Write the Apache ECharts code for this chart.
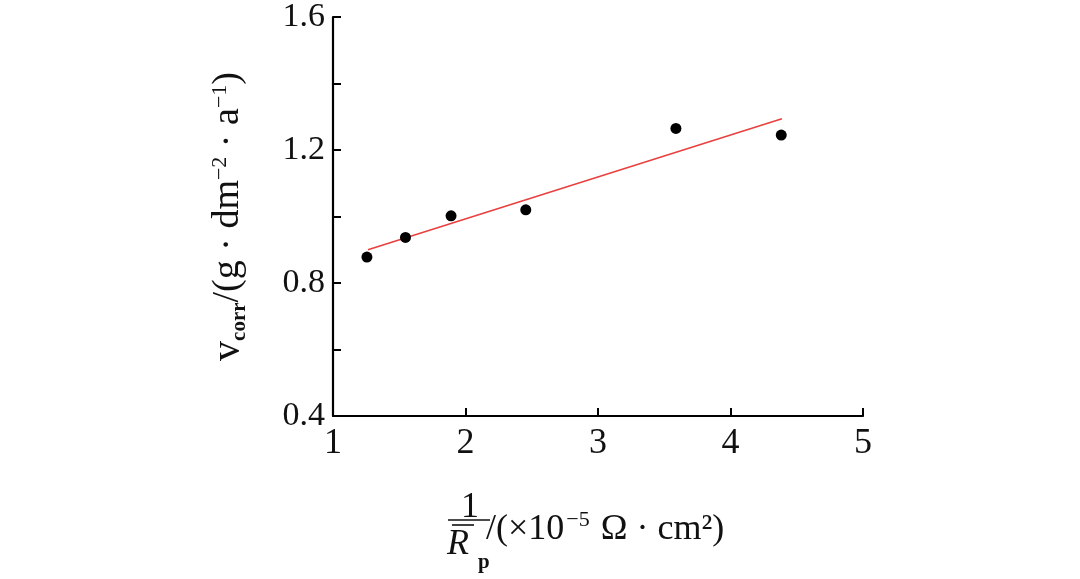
<!DOCTYPE html>
<html>
<head>
<meta charset="utf-8">
<script src="https://cdn.jsdelivr.net/npm/echarts@6/dist/echarts.min.js"></script>
<style>html,body{margin:0;padding:0;background:#fff;}#c{width:1080px;height:579px;}</style>
</head>
<body>
<div id="c"></div>
<script>
// Data
const xValues = [1.256, 1.547, 1.891, 2.455, 3.588, 4.383];
const yValues = [0.878, 0.937, 1.002, 1.020, 1.265, 1.245];
const fitX = [1.264, 4.388];
const fitY = [0.900, 1.294];
const xTicks = [1, 2, 3, 4, 5];
const yLabelTicks = [0.4, 0.8, 1.2, 1.6];

const FONT = '"Liberation Serif", "DejaVu Serif", serif';
const chart = echarts.init(document.getElementById('c'), null, {renderer: 'canvas'});

const points = xValues.map((x, i) => [x, yValues[i]]);
const fit = fitX.map((x, i) => [x, fitY[i]]);

chart.setOption({
  animation: false,
  backgroundColor: '#fff',
  grid: {left: 333, right: 217, top: 14, bottom: 163, containLabel: false},
  xAxis: {
    type: 'value', min: xTicks[0], max: xTicks[xTicks.length - 1], interval: 1,
    axisLine: {show: true, lineStyle: {color: '#000', width: 2.2}},
    axisTick: {show: true, inside: true, length: 8, lineStyle: {color: '#000', width: 2}},
    splitLine: {show: false},
    axisLabel: {color: '#111', fontFamily: FONT, fontSize: 36, margin: 10}
  },
  yAxis: {
    type: 'value', min: 0.4, max: 1.6, interval: 0.2,
    axisLine: {show: true, lineStyle: {color: '#000', width: 2.2}},
    axisTick: {show: true, inside: true, length: 8, lineStyle: {color: '#000', width: 2}},
    splitLine: {show: false},
    axisLabel: {
      color: '#111', fontFamily: FONT, fontSize: 34, margin: 8,
      formatter: function (v) {
        const hit = yLabelTicks.some(t => Math.abs(t - v) < 1e-6);
        return hit ? v.toFixed(1) : '';
      }
    },
    name: '{v|v}{sub|corr}{n|/(g \u00b7 dm}{sup|\u22122}{n| \u00b7 a}{sup|\u22121}{n|)}',
    nameLocation: 'middle', nameRotate: 90, nameGap: 83,
    nameTextStyle: {
      color: '#111', fontFamily: FONT,
      rich: {
        v: {fontFamily: FONT, fontSize: 40, color: '#111', lineHeight: 44, verticalAlign: 'middle'},
        sub: {fontFamily: FONT, fontSize: 21, fontWeight: 'bold', color: '#111', verticalAlign: 'bottom', lineHeight: 44, padding: [10, 0, 0, 0]},
        n: {fontFamily: FONT, fontSize: 38, color: '#111', lineHeight: 44, verticalAlign: 'middle'},
        sup: {fontFamily: FONT, fontSize: 22, color: '#111', verticalAlign: 'middle', lineHeight: 44, padding: [0, 0, 16, 0]}
      }
    }
  },
  series: [
    {
      type: 'line', data: fit, showSymbol: false, symbol: 'none',
      lineStyle: {color: '#e8403f', width: 1.6}, z: 2
    },
    {
      type: 'scatter', data: points, symbol: 'circle', symbolSize: 11,
      itemStyle: {color: '#000', opacity: 1}, z: 3
    }
  ],
  graphic: [
    {type: 'text', left: 461, top: 490, style: {text: '1', font: '36px ' + FONT, fill: '#111'}},
    {type: 'line', shape: {x1: 448, y1: 520, x2: 490, y2: 520}, style: {stroke: '#111', lineWidth: 1.6}},
    {type: 'line', shape: {x1: 452, y1: 525, x2: 474, y2: 525}, style: {stroke: '#111', lineWidth: 1.6}},
    {type: 'text', left: 447, top: 527, style: {text: 'R', font: 'italic 36px ' + FONT, fill: '#111'}},
    {type: 'text', left: 478, top: 552, style: {text: 'p', font: 'bold 21px ' + FONT, fill: '#111'}},
    {type: 'text', left: 486, top: 509, style: {
      text: '{n|/(\u00d710}{sup|\u22125}{n| \u03a9 \u00b7 cm\u00b2)}',
      rich: {
        n: {fontFamily: FONT, fontSize: 36, fill: '#111', lineHeight: 42, verticalAlign: 'middle'},
        sup: {fontFamily: FONT, fontSize: 22, fill: '#111', lineHeight: 42, verticalAlign: 'top', padding: [0, 2, 8, 2]}
      }
    }}
  ]
});
</script>
</body>
</html>
